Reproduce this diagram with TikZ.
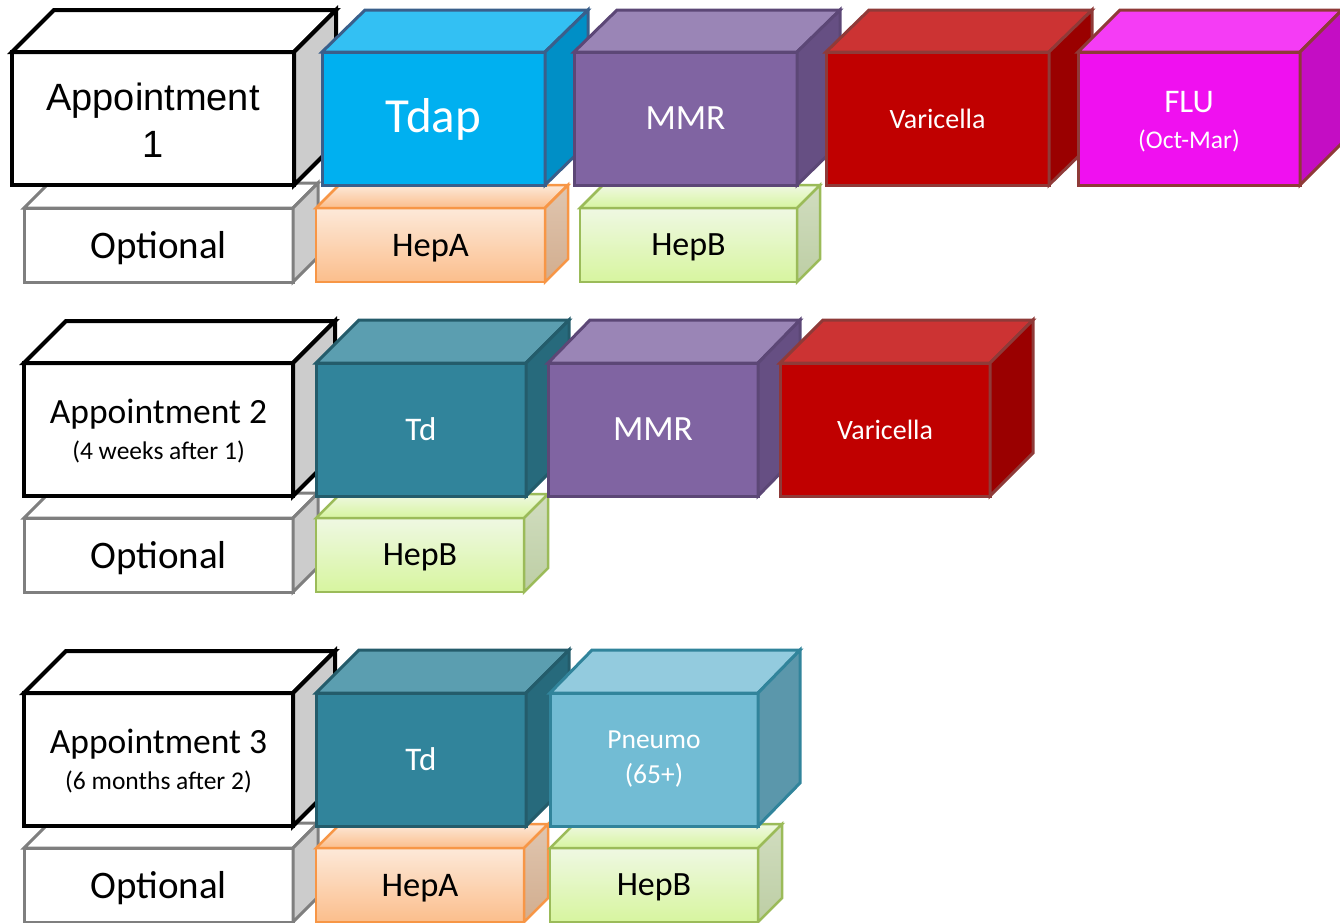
\documentclass[tikz,border=0pt]{standalone}
\usepackage{fontspec}
\setmainfont{Carlito}
\newfontfamily\arialfont{Liberation Sans}

\definecolor{graySide}{HTML}{CCCCCC}
\definecolor{optLine}{HTML}{7F7F7F}
\definecolor{tdapFill}{HTML}{00B0F0}
\definecolor{tdapTop}{HTML}{33C0F3}
\definecolor{tdapSide}{HTML}{008FC6}
\definecolor{tdapLine}{HTML}{3A5F8B}
\definecolor{mmrFill}{HTML}{8064A2}
\definecolor{mmrTop}{HTML}{9A85B6}
\definecolor{mmrSide}{HTML}{664F83}
\definecolor{mmrLine}{HTML}{5C4776}
\definecolor{variFill}{HTML}{C00000}
\definecolor{variTop}{HTML}{CC3333}
\definecolor{variSide}{HTML}{9A0000}
\definecolor{redLine}{HTML}{8F3A38}
\definecolor{fluFill}{HTML}{F010F0}
\definecolor{fluTop}{HTML}{F53CF5}
\definecolor{fluSide}{HTML}{C40DC4}
\definecolor{tdFill}{HTML}{31849B}
\definecolor{tdTop}{HTML}{5B9EB0}
\definecolor{tdSide}{HTML}{276A7C}
\definecolor{tdLine}{HTML}{245C6B}
\definecolor{pneuFill}{HTML}{72BCD4}
\definecolor{pneuTop}{HTML}{93CBDE}
\definecolor{pneuSide}{HTML}{5B97AB}
\definecolor{hepaLine}{HTML}{F79646}
\definecolor{hepaTop}{HTML}{FDEADA}
\definecolor{hepaHi}{HTML}{FDE9D9}
\definecolor{hepaLo}{HTML}{FBBE8C}
\definecolor{hepaSide}{HTML}{D2AD8E}
\definecolor{hepbLine}{HTML}{9BBB59}
\definecolor{hepbTop}{HTML}{F1F9E6}
\definecolor{hepbHi}{HTML}{EFF8E3}
\definecolor{hepbLo}{HTML}{D7F59F}
\definecolor{hepbSide}{HTML}{BDCEA4}

\tikzset{
  front/.style={outer sep=0pt, inner sep=0pt, align=center, line join=miter},
  apptbox/.style={front, draw=black, line width=4, fill=white},
  optbox/.style={front, draw=optLine, line width=3, fill=white},
  tdapbox/.style={front, draw=tdapLine, line width=3, fill=tdapFill, text=white},
  mmrbox/.style={front, draw=mmrLine, line width=3, fill=mmrFill, text=white},
  varibox/.style={front, draw=redLine, line width=3, fill=variFill, text=white},
  flubox/.style={front, draw=redLine, line width=3, fill=fluFill, text=white},
  tdbox/.style={front, draw=tdLine, line width=3, fill=tdFill, text=white},
  pneubox/.style={front, draw=tdFill, line width=3, fill=pneuFill, text=white},
  hepabox/.style={front, draw=hepaLine, line width=2.5, top color=hepaHi, bottom color=hepaLo},
  hepbbox/.style={front, draw=hepbLine, line width=2.5, top color=hepbHi, bottom color=hepbLo},
  bigbox/.style={minimum height=133},
  smallbox/.style={minimum height=74, text depth=0pt}
}

\begin{document}
\begin{tikzpicture}[x=1pt,y=-1pt]
\useasboundingbox (0,0) rectangle (1340,922);

%%%%% Appointment 1
% Optional
\node[optbox, smallbox, minimum width=269, font=\fontsize{39}{44}\selectfont] (opt1) at (158.5,245) {Optional};
\draw[optbox] (opt1.north west) -- ++(25,-25) -- ++(269,0) -- (opt1.north east) -- cycle;
\draw[optbox, fill=graySide] (opt1.north east) -- ++(25,-25) -- ++(0,74) -- (opt1.south east) -- cycle;
% HepA
\node[hepabox, smallbox, minimum width=229, font=\fontsize{34.5}{40}\selectfont] (hepa1) at (430.5,245) {HepA};
\draw[hepabox, fill=hepaTop] (hepa1.north west) -- ++(23,-23) -- ++(229,0) -- (hepa1.north east) -- cycle;
\draw[hepabox, top color=hepaSide!70!white, bottom color=hepaSide] (hepa1.north east) -- ++(23,-23) -- ++(0,74) -- (hepa1.south east) -- cycle;
% HepB
\node[hepbbox, smallbox, minimum width=217, font=\fontsize{34}{40}\selectfont] (hepb1) at (688.5,245) {HepB};
\draw[hepbbox, fill=hepbTop] (hepb1.north west) -- ++(23,-23) -- ++(217,0) -- (hepb1.north east) -- cycle;
\draw[hepbbox, top color=hepbSide!70!white, bottom color=hepbSide] (hepb1.north east) -- ++(23,-23) -- ++(0,74) -- (hepb1.south east) -- cycle;

% Appointment
\node[apptbox, bigbox, minimum width=282, font=\arialfont\fontsize{38}{47}\selectfont] (appt1) at (153,118.5) {\rule{0pt}{30pt}Appointment\\1};
\draw[apptbox] (appt1.north west) -- ++(42,-42) -- ++(282,0) -- (appt1.north east) -- cycle;
\draw[apptbox, fill=graySide] (appt1.north east) -- ++(42,-42) -- ++(0,133) -- (appt1.south east) -- cycle;
% Tdap
\node[tdapbox, bigbox, minimum width=223, font=\fontsize{49}{55}\selectfont] (tdap) at (433.5,118.5) {\rule{0pt}{36pt}Tdap};
\draw[tdapbox, fill=tdapTop] (tdap.north west) -- ++(43,-42) -- ++(223,0) -- (tdap.north east) -- cycle;
\draw[tdapbox, fill=tdapSide] (tdap.north east) -- ++(43,-42) -- ++(0,133) -- (tdap.south east) -- cycle;
% MMR
\node[mmrbox, bigbox, minimum width=223, font=\fontsize{35.5}{40}\selectfont] (mmr1) at (685.5,118.5) {MMR};
\draw[mmrbox, fill=mmrTop] (mmr1.north west) -- ++(43,-42) -- ++(223,0) -- (mmr1.north east) -- cycle;
\draw[mmrbox, fill=mmrSide] (mmr1.north east) -- ++(43,-42) -- ++(0,133) -- (mmr1.south east) -- cycle;
% Varicella
\node[varibox, bigbox, minimum width=223, font=\fontsize{28}{32}\selectfont] (vari1) at (937.5,118.5) {Varicella};
\draw[varibox, fill=variTop] (vari1.north west) -- ++(43,-42) -- ++(223,0) -- (vari1.north east) -- cycle;
\draw[varibox, fill=variSide] (vari1.north east) -- ++(43,-42) -- ++(0,133) -- (vari1.south east) -- cycle;
% FLU
\node[flubox, bigbox, minimum width=222, font=\fontsize{33}{39}\selectfont] (flu) at (1189,118.5) {\rule{0pt}{28pt}FLU\\[-3pt]{\fontsize{25.5}{30}\selectfont (Oct-Mar)}};
\draw[flubox, fill=fluTop] (flu.north west) -- ++(42,-42) -- ++(222,0) -- (flu.north east) -- cycle;
\draw[flubox, fill=fluSide] (flu.north east) -- ++(42,-42) -- ++(0,133) -- (flu.south east) -- cycle;

%%%%% Appointment 2
% Optional
\node[optbox, smallbox, minimum width=269, font=\fontsize{39}{44}\selectfont] (opt2) at (158.5,555) {Optional};
\draw[optbox] (opt2.north west) -- ++(25,-25) -- ++(269,0) -- (opt2.north east) -- cycle;
\draw[optbox, fill=graySide] (opt2.north east) -- ++(25,-25) -- ++(0,74) -- (opt2.south east) -- cycle;
% HepB
\node[hepbbox, smallbox, minimum width=208, font=\fontsize{34}{40}\selectfont] (hepb2) at (420,555) {HepB};
\draw[hepbbox, fill=hepbTop] (hepb2.north west) -- ++(24,-24) -- ++(208,0) -- (hepb2.north east) -- cycle;
\draw[hepbbox, top color=hepbSide!70!white, bottom color=hepbSide] (hepb2.north east) -- ++(24,-24) -- ++(0,74) -- (hepb2.south east) -- cycle;

% Appointment
\node[apptbox, bigbox, minimum width=269, font=\fontsize{35.5}{39}\selectfont] (appt2) at (158.5,429.5) {\rule{0pt}{28pt}Appointment 2\\[-3pt]{\fontsize{25.5}{30}\selectfont (4 weeks after 1)}};
\draw[apptbox] (appt2.north west) -- ++(42,-42) -- ++(269,0) -- (appt2.north east) -- cycle;
\draw[apptbox, fill=graySide] (appt2.north east) -- ++(42,-42) -- ++(0,133) -- (appt2.south east) -- cycle;
% Td
\node[tdbox, bigbox, minimum width=210, font=\fontsize{33}{38}\selectfont] (td2) at (421,429.5) {Td};
\draw[tdbox, fill=tdTop] (td2.north west) -- ++(43,-43) -- ++(210,0) -- (td2.north east) -- cycle;
\draw[tdbox, fill=tdSide] (td2.north east) -- ++(43,-43) -- ++(0,133) -- (td2.south east) -- cycle;
% MMR
\node[mmrbox, bigbox, minimum width=210, font=\fontsize{35.5}{40}\selectfont] (mmr2) at (653,429.5) {MMR};
\draw[mmrbox, fill=mmrTop] (mmr2.north west) -- ++(42,-43) -- ++(210,0) -- (mmr2.north east) -- cycle;
\draw[mmrbox, fill=mmrSide] (mmr2.north east) -- ++(42,-43) -- ++(0,133) -- (mmr2.south east) -- cycle;
% Varicella
\node[varibox, bigbox, minimum width=210, font=\fontsize{28}{32}\selectfont] (vari2) at (885,429.5) {Varicella};
\draw[varibox, fill=variTop] (vari2.north west) -- ++(43,-43) -- ++(210,0) -- (vari2.north east) -- cycle;
\draw[varibox, fill=variSide] (vari2.north east) -- ++(43,-43) -- ++(0,133) -- (vari2.south east) -- cycle;

%%%%% Appointment 3
% Optional
\node[optbox, smallbox, minimum width=269, font=\fontsize{39}{44}\selectfont] (opt3) at (158.5,885) {Optional};
\draw[optbox] (opt3.north west) -- ++(25,-25) -- ++(269,0) -- (opt3.north east) -- cycle;
\draw[optbox, fill=graySide] (opt3.north east) -- ++(25,-25) -- ++(0,74) -- (opt3.south east) -- cycle;
% HepA
\node[hepabox, smallbox, minimum width=208, font=\fontsize{34.5}{40}\selectfont] (hepa3) at (420,885) {HepA};
\draw[hepabox, fill=hepaTop] (hepa3.north west) -- ++(24,-24) -- ++(208,0) -- (hepa3.north east) -- cycle;
\draw[hepabox, top color=hepaSide!70!white, bottom color=hepaSide] (hepa3.north east) -- ++(24,-24) -- ++(0,74) -- (hepa3.south east) -- cycle;
% HepB
\node[hepbbox, smallbox, minimum width=208, font=\fontsize{34}{40}\selectfont] (hepb3) at (654,885) {HepB};
\draw[hepbbox, fill=hepbTop] (hepb3.north west) -- ++(24,-24) -- ++(208,0) -- (hepb3.north east) -- cycle;
\draw[hepbbox, top color=hepbSide!70!white, bottom color=hepbSide] (hepb3.north east) -- ++(24,-24) -- ++(0,74) -- (hepb3.south east) -- cycle;

% Appointment
\node[apptbox, bigbox, minimum width=269, font=\fontsize{35.5}{39}\selectfont] (appt3) at (158.5,759.5) {\rule{0pt}{28pt}Appointment 3\\[-3pt]{\fontsize{25.5}{30}\selectfont (6 months after 2)}};
\draw[apptbox] (appt3.north west) -- ++(42,-42) -- ++(269,0) -- (appt3.north east) -- cycle;
\draw[apptbox, fill=graySide] (appt3.north east) -- ++(42,-42) -- ++(0,133) -- (appt3.south east) -- cycle;
% Td
\node[tdbox, bigbox, minimum width=210, font=\fontsize{33}{38}\selectfont] (td3) at (421,759.5) {Td};
\draw[tdbox, fill=tdTop] (td3.north west) -- ++(43,-43) -- ++(210,0) -- (td3.north east) -- cycle;
\draw[tdbox, fill=tdSide] (td3.north east) -- ++(43,-43) -- ++(0,133) -- (td3.south east) -- cycle;
% Pneumo
\node[pneubox, bigbox, minimum width=208, font=\fontsize{27.5}{35}\selectfont] (pneumo) at (654,759.5) {Pneumo\\(65+)};
\draw[pneubox, fill=pneuTop] (pneumo.north west) -- ++(42,-43) -- ++(208,0) -- (pneumo.north east) -- cycle;
\draw[pneubox, fill=pneuSide] (pneumo.north east) -- ++(42,-43) -- ++(0,133) -- (pneumo.south east) -- cycle;

\end{tikzpicture}
\end{document}
